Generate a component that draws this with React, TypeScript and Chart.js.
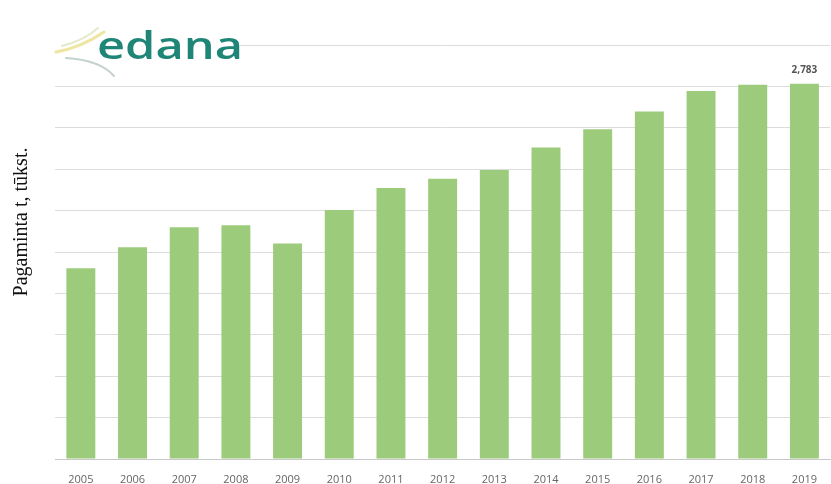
import React, { useEffect, useRef } from "react";
import { Chart, registerables } from "chart.js";

Chart.register(...registerables);

const years = ["2005", "2006", "2007", "2008", "2009", "2010", "2011", "2012", "2013", "2014", "2015", "2016", "2017", "2018", "2019"];
const production = [1415, 1570, 1718, 1733, 1598, 1847, 2010, 2078, 2143, 2310, 2446, 2576, 2729, 2775, 2783];
const lastValueLabel = "2,783";
const yAxisTitle = "Pagaminta t, tūkst.";
const logoText = "edana";
const gridStep = 307;
const axisMax = 3070;

const overlayPlugin = {
  id: "overlay",
  afterDatasetsDraw(chart: any) {
    const ctx = chart.ctx as CanvasRenderingContext2D;
    const area = chart.chartArea;
    // value label above last bar
    const meta = chart.getDatasetMeta(0);
    const lastBar = meta.data[meta.data.length - 1];
    ctx.save();
    ctx.font = "bold 10px 'Open Sans'";
    ctx.fillStyle = "#555555";
    ctx.textAlign = "center";
    ctx.textBaseline = "bottom";
    ctx.fillText(lastValueLabel, lastBar.x, lastBar.y - 9);
    ctx.restore();

    // y axis title
    ctx.save();
    ctx.font = "20px 'Liberation Serif'";
    ctx.fillStyle = "#111111";
    ctx.textAlign = "center";
    ctx.textBaseline = "alphabetic";
    ctx.translate(27, 222);
    ctx.rotate(-Math.PI / 2);
    ctx.fillText(yAxisTitle, 0, 0);
    ctx.restore();

    // logo
    ctx.save();
    ctx.fillStyle = "#ffffff";
    ctx.fillRect(area.left - 4, area.top - 4, 244 - area.left, 9);
    ctx.lineCap = "round";
    ctx.strokeStyle = "rgba(236, 226, 150, 0.9)";
    ctx.lineWidth = 3;
    ctx.beginPath();
    ctx.moveTo(56, 52);
    ctx.quadraticCurveTo(80, 48, 104, 32);
    ctx.stroke();
    ctx.strokeStyle = "rgba(180, 200, 190, 0.8)";
    ctx.lineWidth = 2;
    ctx.beginPath();
    ctx.moveTo(66, 58);
    ctx.quadraticCurveTo(100, 60, 114, 76);
    ctx.stroke();
    ctx.strokeStyle = "rgba(215, 225, 180, 0.7)";
    ctx.lineWidth = 2;
    ctx.beginPath();
    ctx.moveTo(62, 46);
    ctx.quadraticCurveTo(85, 40, 98, 28);
    ctx.stroke();
    ctx.font = "600 38px 'Open Sans'";
    ctx.fillStyle = "#1f8577";
    ctx.textBaseline = "alphabetic";
    ctx.textAlign = "left";
    const w = ctx.measureText(logoText).width;
    ctx.translate(97, 59);
    ctx.scale(146 / w, 1);
    ctx.fillText(logoText, 0, 0);
    ctx.restore();
  },
};

export default function App() {
  const ref = useRef<HTMLCanvasElement | null>(null);
  useEffect(() => {
    if (!ref.current) return;
    const chart = new Chart(ref.current, {
      type: "bar",
      data: {
        labels: years,
        datasets: [
          {
            label: yAxisTitle,
            data: production,
            backgroundColor: "#9ccb7b",
            borderWidth: 0,
            barPercentage: 0.56,
            categoryPercentage: 1,
          },
        ],
      },
      options: {
        animation: false,
        responsive: false,
        maintainAspectRatio: false,
        layout: { padding: { left: 55, right: 0, top: 45, bottom: 0 } },
        plugins: {
          legend: { display: false },
          tooltip: { enabled: false },
          title: { display: false },
        },
        scales: {
          x: {
            grid: { display: false, drawTicks: false },
            border: { display: true, color: "#c8c8c8", width: 1 },
            afterFit(scale: any) {
              scale.height = 25;
            },
            ticks: {
              padding: 14,
              color: "#666666",
              font: { family: "'Open Sans'", size: 11 },
              maxRotation: 0,
              autoSkip: false,
            },
          },
          y: {
            min: 0,
            max: axisMax,
            title: { display: false, text: yAxisTitle },
            grid: { color: "#dcdcdc", lineWidth: 1, drawTicks: false },
            border: { display: false },
            ticks: { display: false, stepSize: gridStep },
          },
        },
      },
      plugins: [overlayPlugin],
    });
    return () => chart.destroy();
  }, []);
  return (
    <div style={{ position: "fixed", left: 0, top: 0, width: 831, height: 484, background: "#ffffff" }}>
      <canvas ref={ref} width={831} height={484} style={{ display: "block" }} />
    </div>
  );
}
